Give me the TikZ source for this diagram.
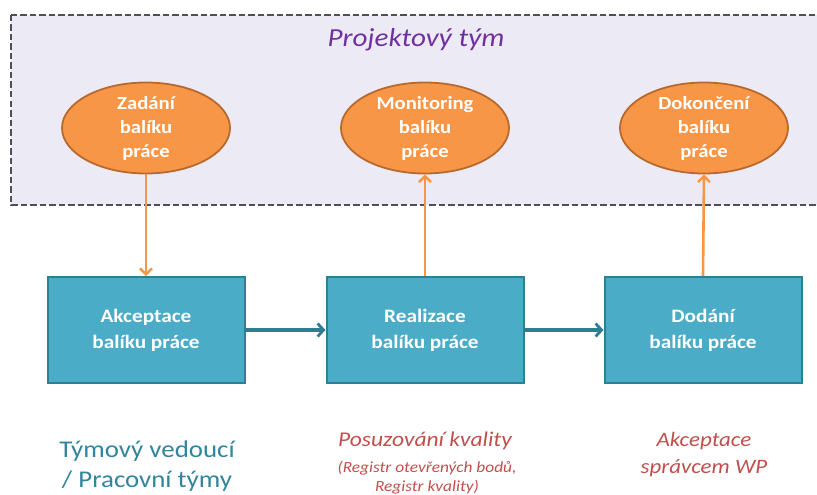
\documentclass[tikz,border=0pt]{standalone}
\usepackage{fontspec}
\setmainfont{Carlito}[FakeStretch=1.12]
\usetikzlibrary{arrows.meta,shapes.geometric}
\definecolor{teamfill}{HTML}{ECEBF5}
\definecolor{framegray}{HTML}{4F4F5C}
\definecolor{titlepurple}{HTML}{7030A0}
\definecolor{boxfill}{HTML}{4AACC6}
\definecolor{boxedge}{HTML}{2E7E94}
\definecolor{ovalfill}{HTML}{F79646}
\definecolor{ovaledge}{HTML}{B8692E}
\definecolor{flowteal}{HTML}{2F7D91}
\definecolor{labelteal}{HTML}{31859C}
\definecolor{notered}{HTML}{C0504D}
\tikzset{
  oval/.style={ellipse, draw=ovaledge, line width=1.8pt, fill=ovalfill,
    minimum width=168pt, minimum height=91pt, inner sep=0pt, align=center,
    text=white, font=\bfseries\fontsize{18.5}{24}\selectfont},
  stagebox/.style={rectangle, draw=boxedge, line width=2pt, fill=boxfill,
    minimum width=197pt, minimum height=106pt, inner sep=0pt, align=center,
    text=white, font=\bfseries\fontsize{19}{26}\selectfont},
  orangearrow/.style={draw=ovalfill, line width=2.6pt,
    -{Straight Barb[length=6pt,width=12pt,line width=2.4pt]}},
  flowarrow/.style={draw=flowteal, line width=3.2pt,
    -{Straight Barb[length=6pt,width=13pt,line width=2.8pt]}},
  rolelabel/.style={align=center, inner sep=0pt}
}
\begin{document}
\begin{tikzpicture}[x=1pt,y=-1pt]
  \useasboundingbox (0,0) rectangle (817,495);
  \clip (0,0) rectangle (817,495);
  \fill[white] (0,0) rectangle (817,495);
  % project team area
  \draw[framegray, fill=teamfill, line width=2.8pt, dash pattern=on 6.5pt off 3pt]
    (11,15) rectangle (850,205);
  \node[text=titlepurple, font=\itshape\fontsize{26}{30}\selectfont] (title) at (416,40) {Projektový tým};
  % team activities
  \node[oval] (assign) at (146,128) {Zadání\\balíku\\práce};
  \node[oval] (monitor) at (425,128) {Monitoring\\balíku\\práce};
  \node[oval] (finish) at (704,128) {Dokončení\\balíku\\práce};
  % work package stages
  \node[stagebox] (accept) at (146,330) {Akceptace\\balíku práce};
  \node[stagebox] (realize) at (425,330) {Realizace\\balíku práce};
  \node[stagebox] (deliver) at (703,330) {Dodání\\balíku práce};
  % connectors
  \draw[orangearrow] (assign.south) -- (accept.north);
  \draw[orangearrow] (realize.north) -- (monitor.south);
  \draw[orangearrow] (deliver.north) -- (finish.south);
  \draw[flowarrow] (accept.east) -- (realize.west);
  \draw[flowarrow] (realize.east) -- (deliver.west);
  % responsibilities
  \node[rolelabel, text=labelteal, font=\fontsize{24}{30}\selectfont] (leader) at (147,466)
    {Týmový vedoucí\\/ Pracovní týmy};
  \node[rolelabel, text=notered, font=\itshape\fontsize{21}{24}\selectfont] (quality) at (425,441)
    {Posuzování kvality};
  \node[rolelabel, text=notered, font=\itshape\fontsize{15.5}{19}\selectfont] (registers) at (427,478)
    {(Registr otevřených bodů,\\Registr kvality)};
  \node[rolelabel, text=notered, font=\itshape\fontsize{20.5}{27}\selectfont] (approval) at (704,455)
    {Akceptace\\správcem WP};
\end{tikzpicture}
\end{document}
